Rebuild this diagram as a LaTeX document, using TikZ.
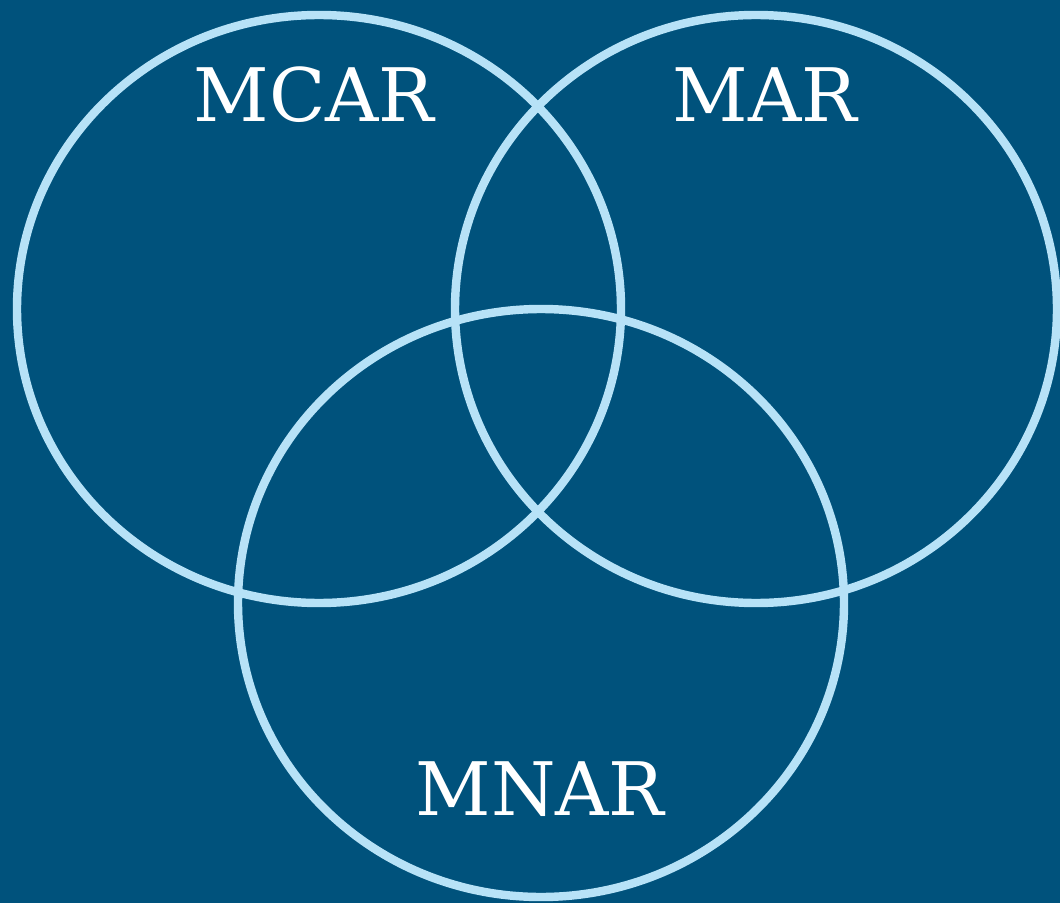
\documentclass[tikz,border=0pt]{standalone}
\usepackage{fontspec}
\setmainfont{DejaVu Serif}
\usepackage{xcolor}
\usepackage{tikz}
\usetikzlibrary{positioning}

\definecolor{bgblue}{HTML}{00527C}
\definecolor{ringblue}{HTML}{B7E2F7}

\begin{document}
\begin{tikzpicture}[
  ring/.style={draw=ringblue, line width=2.4pt},
  lbl/.style={text=white, font=\fontsize{21}{25}\selectfont, anchor=base, inner sep=0pt}
]
%% Background
\fill[bgblue] (0,0) rectangle (10.6,9.03);
\useasboundingbox (0,0) rectangle (10.6,9.03);

%% Ellipse centres
\coordinate (cmcar) at (3.19,5.94);
\coordinate (cmar) at (7.56,5.94);
\coordinate (cmnar) at (5.41,3.00);

%% The three sets
\draw[ring] (cmcar) ellipse [x radius=3.02, y radius=2.94];
\draw[ring] (cmar) ellipse [x radius=3.01, y radius=2.94];
\draw[ring] (cmnar) ellipse [x radius=3.03, y radius=2.94];

%% Labels
\node[lbl] (tmcar) at (3.14,7.81) {MCAR};
\node[lbl] (tmar) at (7.65,7.81) {MAR};
\node[lbl] (tmnar) at (5.40,0.88) {MNAR};
\end{tikzpicture}
\end{document}
